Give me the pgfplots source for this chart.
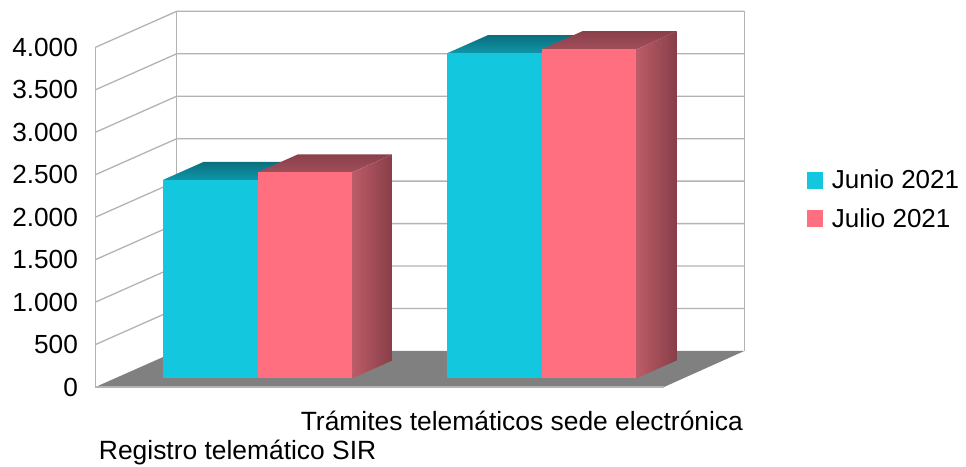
\documentclass[border=0pt]{standalone}
\usepackage{fontspec}
\setmainfont{Liberation Sans}
\usepackage{pgfplots}
\pgfplotsset{compat=1.18}

\definecolor{wallgrid}{HTML}{B3B3B3}
\definecolor{floorgrey}{HTML}{808080}
\definecolor{juneface}{HTML}{13C7DF}
\definecolor{junetopback}{HTML}{0A6F7E}
\definecolor{junetopfront}{HTML}{0F96AA}
\definecolor{julyface}{HTML}{FF6F80}
\definecolor{julytopback}{HTML}{8A404A}
\definecolor{julytopfront}{HTML}{A04E5A}
\definecolor{julysidelight}{HTML}{BC5C68}
\definecolor{julysidedark}{HTML}{863E48}

\newcommand{\chartfont}{\fontsize{26.2}{31}\selectfont}
\newcommand{\catfont}{\fontsize{26.4}{31}\selectfont}
\newcommand{\keyfont}{\fontsize{26}{31}\selectfont}

% One 3D column: #1 left edge, #2 value, #3 face, #4/#5 top shading, #6/#7 side shading
\newcommand{\prism}[7]{%
  \pgfmathsetmacro{\xa}{#1}%
  \pgfmathsetmacro{\xb}{#1+0.3328}%
  \pgfmathsetmacro{\xc}{#1+0.1425}%
  \pgfmathsetmacro{\xd}{#1+0.4753}%
  \pgfmathsetmacro{\ya}{102.5}%
  \pgfmathsetmacro{\yb}{102.5+#2}%
  \pgfmathsetmacro{\yc}{314.5}%
  \pgfmathsetmacro{\yd}{314.5+#2}%
  \addplot[forget plot, draw=none, bottom color=#5, top color=#4]
    coordinates {(\xa,\yb) (\xb,\yb) (\xd,\yd) (\xc,\yd)} -- cycle;
  \addplot[forget plot, draw=none, left color=#6, right color=#7]
    coordinates {(\xb,\ya) (\xd,\yc) (\xd,\yd) (\xb,\yb)} -- cycle;
  \addplot[forget plot, draw=none, fill=#3]
    coordinates {(\xa,\ya) (\xb,\ya) (\xb,\yb) (\xa,\yb)} -- cycle;
}

\begin{document}
\begin{tikzpicture}
\path[use as bounding box] (-95.5pt,-79pt) rectangle (870.5pt,387pt);
\begin{axis}[
  scale only axis,
  width=648.8pt, height=375.7pt,
  xmin=0, xmax=2.2825,
  ymin=0, ymax=4424,
  clip=false,
  axis x line=bottom, axis y line=left,
  axis line style={draw=none, -},
  tick style={draw=none},
  xtick={0.5,1.5},
  xticklabels={{~\\[18pt]Registro telemático SIR},{Trámites telemáticos sede electrónica}},
  x tick label style={align=center, anchor=north, font=\catfont, yshift=-18pt, text depth=0pt},
  ytick={0,500,1000,1500,2000,2500,3000,3500,4000},
  scaled y ticks=false,
  y tick label style={
    font=\chartfont, anchor=east, xshift=-12pt,
    /pgf/number format/.cd, assume math mode=true, 1000 sep={.}
  },
  legend style={
    at={(1.0965,0.5825)}, anchor=north west, draw=none, fill=none,
    font=\keyfont, row sep=14pt, inner sep=0pt, outer sep=0pt,
    /tikz/every even column/.append style={column sep=0pt}
  },
  legend cell align=left,
  legend image code/.code={\fill[#1] (0pt,-8.2pt) rectangle (16.5pt,8.2pt);},
]
% floor
\addplot[forget plot, draw=none, fill=floorgrey]
  coordinates {(0,0) (2,0) (2.2825,424) (0.2857,424)} -- cycle;

% wall gridlines, left wall then back wall
\addplot[forget plot, wallgrid, line width=1.3pt] coordinates {(0,500) (0.2857,924) (2.2825,924)};
\addplot[forget plot, wallgrid, line width=1.3pt] coordinates {(0,1000) (0.2857,1424) (2.2825,1424)};
\addplot[forget plot, wallgrid, line width=1.3pt] coordinates {(0,1500) (0.2857,1924) (2.2825,1924)};
\addplot[forget plot, wallgrid, line width=1.3pt] coordinates {(0,2000) (0.2857,2424) (2.2825,2424)};
\addplot[forget plot, wallgrid, line width=1.3pt] coordinates {(0,2500) (0.2857,2924) (2.2825,2924)};
\addplot[forget plot, wallgrid, line width=1.3pt] coordinates {(0,3000) (0.2857,3424) (2.2825,3424)};
\addplot[forget plot, wallgrid, line width=1.3pt] coordinates {(0,3500) (0.2857,3924) (2.2825,3924)};
\addplot[forget plot, wallgrid, line width=1.3pt] coordinates {(0,4000) (0.2857,4424) (2.2825,4424)};

% wall edges
\addplot[forget plot, wallgrid, line width=1.3pt] coordinates {(0,0) (0,4000)};
\addplot[forget plot, wallgrid, line width=1.3pt] coordinates {(0.2857,424) (0.2857,4424)};
\addplot[forget plot, wallgrid, line width=1.3pt] coordinates {(2.2825,424) (2.2825,4424)};
\addplot[forget plot, wallgrid, line width=1.3pt] coordinates {(0,0) (2,0)};

% columns
\prism{0.2375}{2336}{juneface}{junetopback}{junetopfront}{juneface}{junetopback}
\prism{0.5703}{2426}{julyface}{julytopback}{julytopfront}{julysidelight}{julysidedark}
\prism{1.2375}{3828}{juneface}{junetopback}{junetopfront}{juneface}{junetopback}
\prism{1.5703}{3875}{julyface}{julytopback}{julytopfront}{julysidelight}{julysidedark}

\addlegendimage{fill=juneface, draw=none}
\addlegendentry{\hspace{6.5pt}Junio 2021}
\addlegendimage{fill=julyface, draw=none}
\addlegendentry{\hspace{6.5pt}Julio 2021}
\end{axis}
\end{tikzpicture}
\end{document}
